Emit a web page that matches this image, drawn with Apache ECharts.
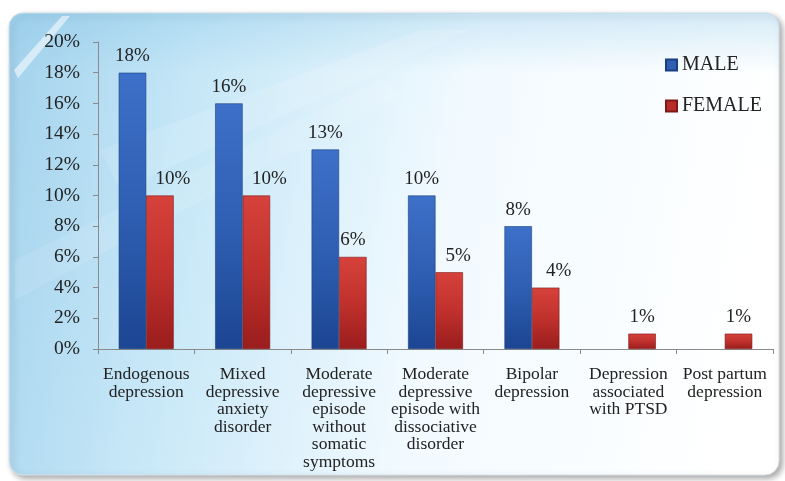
<!DOCTYPE html>
<html>
<head>
<meta charset="utf-8">
<script src="https://cdn.jsdelivr.net/npm/echarts@6/dist/echarts.min.js"></script>
<style>
  html, body { margin: 0; padding: 0; background: #ffffff; }
  #chart { width: 785px; height: 481px; }
</style>
</head>
<body>
<div id="chart"></div>
<script>
// Depression subtypes by sex (percent of patients)
const categories = [
  'Endogenous\ndepression',
  'Mixed\ndepressive\nanxiety\ndisorder',
  'Moderate\ndepressive\nepisode\nwithout\nsomatic\nsymptoms',
  'Moderate\ndepressive\nepisode with\ndissociative\ndisorder',
  'Bipolar\ndepression',
  'Depression\nassociated\nwith PTSD',
  'Post partum\ndepression'
];
const maleValues = [18, 16, 13, 10, 8, null, null];
const femaleValues = [10, 10, 6, 5, 4, 1, 1];
const yTicks = { min: 0, max: 20, step: 2 };

// Horizontal nudge (px) for female value labels that would crowd the male bar
const femaleLabelShift = [13, 13, 0, 9, 13, 0, 0];

const serif = '"Liberation Serif", "DejaVu Serif", serif';

const chart = echarts.init(document.getElementById('chart'));

// Bars shade from a lighter top to a deeper base
const blueFill = new echarts.graphic.LinearGradient(0, 0, 0, 1, [
  { offset: 0, color: '#3d70c8' },
  { offset: 0.5, color: '#2f5fb3' },
  { offset: 1, color: '#1c4592' }
]);
const redFill = new echarts.graphic.LinearGradient(0, 0, 0, 1, [
  { offset: 0, color: '#d6423b' },
  { offset: 0.5, color: '#c0312d' },
  { offset: 1, color: '#9a1d1d' }
]);

const labelStyle = {
  show: true,
  position: 'top',
  distance: 7,
  formatter: p => p.value + '%',
  fontFamily: serif,
  fontSize: 19,
  color: '#222'
};

const femaleData = femaleValues.map((v, i) => ({
  value: v,
  label: { offset: [femaleLabelShift[i], 0] }
}));

chart.setOption({
  animation: false,
  graphic: [
    {
      type: 'rect',
      z: -10,
      shape: { x: 9, y: 13, width: 770, height: 462, r: 14 },
      style: {
        fill: new echarts.graphic.LinearGradient(0, 0, 1, 0.3, [
          { offset: 0, color: '#a3d2ed' },
          { offset: 0.25, color: '#c6e7f7' },
          { offset: 0.6, color: '#f2faff' },
          { offset: 1, color: '#ffffff' }
        ]),
        stroke: '#d7e3ea',
        lineWidth: 1,
        shadowBlur: 6,
        shadowOffsetX: 3,
        shadowOffsetY: 3,
        shadowColor: 'rgba(0,0,0,0.35)'
      }
    },
    {
      type: 'rect',
      z: -9,
      shape: { x: 9, y: 13, width: 770, height: 60, r: [14, 14, 0, 0] },
      style: {
        fill: new echarts.graphic.LinearGradient(0, 0, 0, 1, [
          { offset: 0, color: 'rgba(140,200,232,0.35)' },
          { offset: 1, color: 'rgba(140,200,232,0)' }
        ])
      }
    },
    {
      type: 'polygon',
      z: -8,
      shape: { points: [[14, 70], [62, 16], [70, 16], [18, 78]] },
      style: { fill: 'rgba(255,255,255,0.55)' }
    },
    {
      type: 'polygon',
      z: -8,
      shape: { points: [[100, 150], [420, 30], [470, 30], [120, 190]] },
      style: { fill: 'rgba(255,255,255,0.12)' }
    },
    {
      type: 'polygon',
      z: -8,
      shape: { points: [[15, 260], [380, 80], [400, 95], [15, 300]] },
      style: { fill: 'rgba(255,255,255,0.1)' }
    }
  ],
  legend: {
    orient: 'vertical',
    left: 660,
    top: 50,
    itemWidth: 11,
    itemHeight: 11,
    itemGap: 21,
    icon: 'rect',
    textStyle: { fontFamily: serif, fontSize: 20, color: '#222' },
    data: [
      { name: 'MALE', itemStyle: { color: '#2f5fb2' } },
      { name: 'FEMALE', itemStyle: { color: '#b82d2a' } }
    ]
  },
  grid: { left: 98, right: 12, top: 42, bottom: 132, containLabel: false },
  xAxis: {
    type: 'category',
    data: categories,
    axisLine: { lineStyle: { color: '#8a8a8a' } },
    axisTick: { show: true, alignWithLabel: false, length: 5, lineStyle: { color: '#8a8a8a' } },
    axisLabel: {
      interval: 0,
      margin: 17,
      fontFamily: serif,
      fontSize: 17.5,
      lineHeight: 17.5,
      color: '#222'
    }
  },
  yAxis: {
    type: 'value',
    min: yTicks.min,
    max: yTicks.max,
    interval: yTicks.step,
    splitLine: { show: false },
    axisLine: { show: true, lineStyle: { color: '#8a8a8a' } },
    axisTick: { show: true, length: 5, lineStyle: { color: '#8a8a8a' } },
    axisLabel: {
      formatter: '{value}%',
      fontFamily: serif,
      fontSize: 19.5,
      color: '#222',
      margin: 18
    }
  },
  series: [
    {
      name: 'MALE',
      type: 'bar',
      data: maleValues,
      barGap: '0%',
      barCategoryGap: '43%',
      itemStyle: { color: blueFill, borderColor: '#1a3f80', borderWidth: 0.6 },
      label: labelStyle
    },
    {
      name: 'FEMALE',
      type: 'bar',
      data: femaleData,
      itemStyle: { color: redFill, borderColor: '#7d1a18', borderWidth: 0.6 },
      label: labelStyle
    }
  ]
});
</script>
</body>
</html>
